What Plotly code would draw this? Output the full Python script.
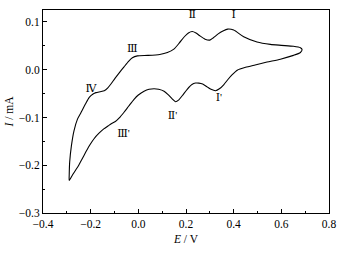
import plotly.graph_objects as go

# Cyclic voltammogram: potential E (V) and current I (mA), traced in scan order
E = [-0.290, -0.290, -0.288, -0.281, -0.270, -0.255, -0.241, -0.222, -0.206, -0.190,
     -0.178, -0.160, -0.143, -0.128, -0.115, -0.098, -0.081, -0.060, -0.040, -0.025,
     -0.004, 0.040, 0.090, 0.122, 0.149, 0.172, 0.193, 0.210, 0.226, 0.242,
     0.258, 0.280, 0.300, 0.315, 0.335, 0.355, 0.375, 0.400, 0.442, 0.498,
     0.554, 0.600, 0.651, 0.680, 0.687,
     0.680, 0.651, 0.596, 0.540, 0.490, 0.450, 0.415, 0.395, 0.375, 0.359,
     0.340, 0.324, 0.305, 0.289, 0.270, 0.254, 0.240, 0.225, 0.205, 0.185,
     0.170, 0.156, 0.142, 0.125, 0.108, 0.085, 0.066, 0.045, 0.024, 0.000,
     -0.018, -0.040, -0.060, -0.080, -0.095, -0.110, -0.125, -0.145, -0.165, -0.185,
     -0.203, -0.220, -0.236, -0.250, -0.264, -0.278, -0.290]
I = [-0.232, -0.220, -0.193, -0.160, -0.128, -0.103, -0.090, -0.072, -0.058, -0.051,
     -0.048, -0.046, -0.044, -0.038, -0.030, -0.018, -0.007, 0.006, 0.018, 0.025,
     0.029, 0.030, 0.032, 0.036, 0.043, 0.056, 0.069, 0.077, 0.080, 0.077,
     0.071, 0.064, 0.062, 0.067, 0.075, 0.081, 0.085, 0.083, 0.069, 0.058,
     0.053, 0.051, 0.049, 0.046, 0.042,
     0.036, 0.030, 0.022, 0.016, 0.010, 0.005, -0.001, -0.010, -0.021, -0.031,
     -0.040, -0.044, -0.041, -0.036, -0.030, -0.028, -0.028, -0.031, -0.041, -0.054,
     -0.063, -0.067, -0.061, -0.052, -0.045, -0.041, -0.040, -0.041, -0.045, -0.053,
     -0.062, -0.076, -0.089, -0.101, -0.108, -0.112, -0.117, -0.124, -0.133, -0.144,
     -0.157, -0.172, -0.187, -0.200, -0.211, -0.222, -0.232]

peak_labels = ["Ⅰ", "Ⅱ", "Ⅲ", "Ⅳ", "Ⅰ'", "Ⅱ'", "Ⅲ'"]
peak_E = [0.400, 0.226, -0.025, -0.199, 0.338, 0.143, -0.062]
peak_I = [0.113, 0.113, 0.042, -0.040, -0.060, -0.097, -0.136]

serif = "Liberation Serif, DejaVu Serif, serif"

fig = go.Figure()
fig.add_trace(go.Scatter(x=E, y=I, mode="lines",
                         line=dict(color="black", width=1.1, shape="spline", smoothing=0.6),
                         showlegend=False, hoverinfo="skip"))
fig.add_trace(go.Scatter(x=peak_E, y=peak_I, mode="text", text=peak_labels,
                         textfont=dict(family=serif, size=11, color="black"),
                         showlegend=False, hoverinfo="skip"))

axis_common = dict(showline=True, linecolor="black", linewidth=1, mirror=True,
                   ticks="inside", ticklen=4, tickcolor="black", showgrid=False,
                   zeroline=False, tickfont=dict(family=serif, size=11.5, color="black"))

fig.update_xaxes(range=[-0.4, 0.8], dtick=0.2, tick0=-0.4, tickformat=".1f",
                 minor=dict(dtick=0.1, ticks="inside", ticklen=2, tickcolor="black"),
                 title=dict(text="<i>E</i> / V", font=dict(family=serif, size=11.5, color="black"),
                            standoff=6),
                 **axis_common)
fig.update_yaxes(range=[-0.3, 0.125], dtick=0.1, tick0=-0.3, tickformat=".1f",
                 minor=dict(dtick=0.05, ticks="inside", ticklen=2, tickcolor="black"),
                 title=dict(text="<i>I</i> / mA", font=dict(family=serif, size=11.5, color="black"),
                            standoff=2),
                 **axis_common)

fig.update_layout(width=345, height=253, margin=dict(l=42, r=16, t=9, b=34),
                  plot_bgcolor="white", paper_bgcolor="white")

fig.write_html("out.html", config={"displayModeBar": False},
               post_script="document.body.style.margin='0';")
